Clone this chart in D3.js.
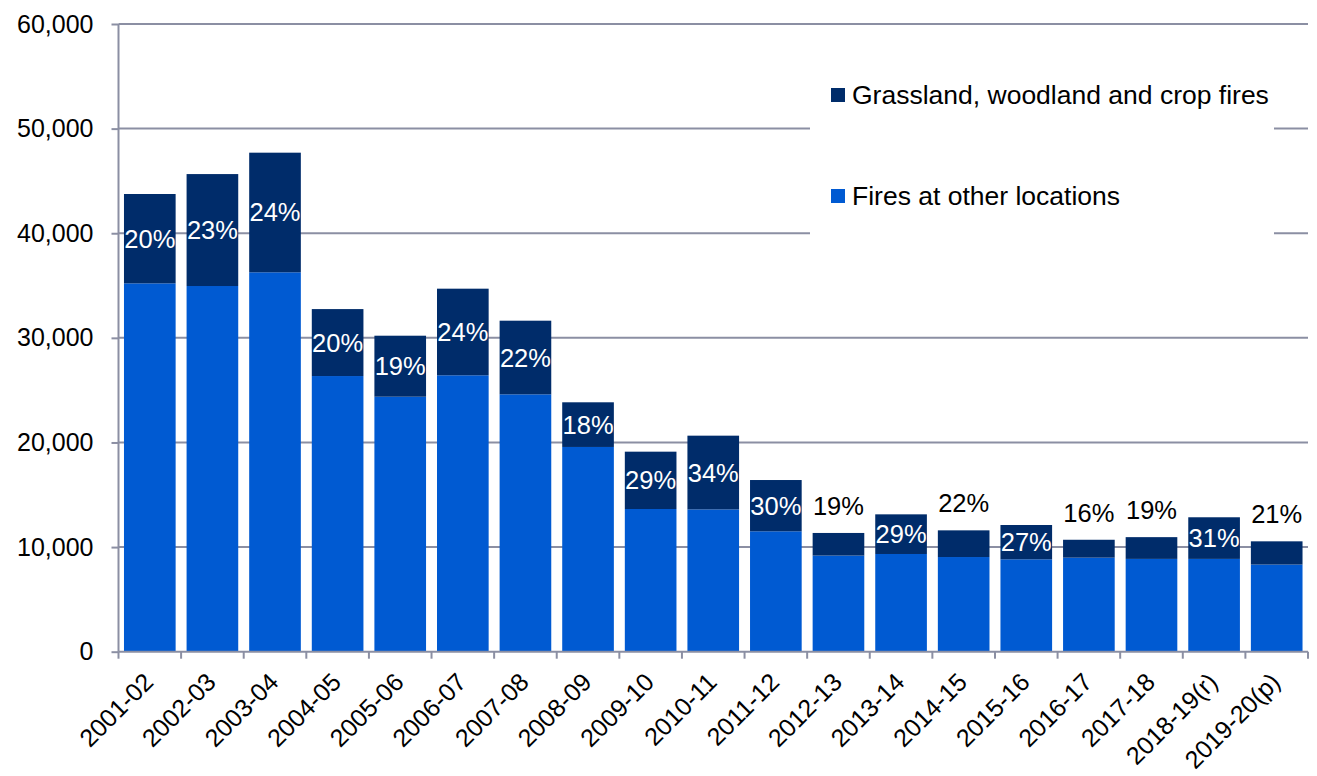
<!DOCTYPE html>
<html>
<head>
<meta charset="utf-8">
<script src="https://cdn.jsdelivr.net/npm/d3@7"></script>
<style>
  html, body { margin: 0; padding: 0; background: #ffffff; }
  svg { display: block; font-family: "Liberation Sans", Arial, sans-serif; }
</style>
</head>
<body>
<svg id="chart" width="1317" height="776"></svg>
<script>
// Financial years
const categories = ["2001-02", "2002-03", "2003-04", "2004-05", "2005-06", "2006-07",
  "2007-08", "2008-09", "2009-10", "2010-11", "2011-12", "2012-13", "2013-14",
  "2014-15", "2015-16", "2016-17", "2017-18", "2018-19(r)", "2019-20(p)"];

// Fires at other locations (lower segment)
const otherFires = [35210, 34955, 36265, 26350, 24375, 26420, 24600, 19570, 13640,
  13600, 11510, 9190, 9340, 9050, 8830, 8990, 8870, 8870, 8330];

// Grassland, woodland and crop fires (upper segment)
const grassFires = [8540, 10700, 11435, 6400, 5830, 8280, 7040, 4270, 5480,
  7050, 4900, 2160, 3790, 2550, 3280, 1710, 2080, 3980, 2220];

const yTicks = [0, 10000, 20000, 30000, 40000, 50000, 60000];

const seriesNames = ["Grassland, woodland and crop fires", "Fires at other locations"];
const colors = { grass: "#002c6a", other: "#005ad2" };
const gridColor = "#8b8fa3";

const svg = d3.select("#chart");

const plotLeft = 118.5, plotRight = 1308, plotTop = 24, plotBottom = 651.7;

const x = d3.scaleBand()
  .domain(categories)
  .range([plotLeft, plotRight])
  .paddingInner(0.175)
  .paddingOuter(0.0875);

const y = d3.scaleLinear().domain([0, 60000]).range([plotBottom, plotTop]);

const data = categories.map((c, i) => ({
  cat: c,
  other: otherFires[i],
  grass: grassFires[i],
  total: otherFires[i] + grassFires[i],
  pct: Math.round(grassFires[i] / (otherFires[i] + grassFires[i]) * 100)
}));

// Horizontal gridlines
svg.append("g")
  .selectAll("line")
  .data(yTicks.filter(t => t > 0))
  .join("line")
  .attr("x1", plotLeft).attr("x2", plotRight)
  .attr("y1", d => y(d)).attr("y2", d => y(d))
  .attr("stroke", gridColor).attr("stroke-width", 2);

// Y axis with outward ticks and labels
const yAxis = svg.append("g")
  .attr("transform", `translate(${plotLeft},0)`)
  .call(d3.axisLeft(y).tickValues(yTicks).tickSize(7).tickPadding(18)
    .tickFormat(d3.format(",")));
yAxis.select(".domain").attr("stroke", gridColor).attr("stroke-width", 2)
  .attr("d", `M0,${y(60000)}V${y(0)}`);
yAxis.selectAll(".tick line").attr("stroke", gridColor).attr("stroke-width", 2);
yAxis.selectAll(".tick text")
  .attr("fill", "#000").style("font-size", "25px")
  .style("font-family", "'Liberation Sans', Arial, sans-serif");

// Legend panel sits over the gridlines
const legend = svg.append("g");
legend.append("rect")
  .attr("x", 810).attr("y", 60).attr("width", 464).attr("height", 185)
  .attr("fill", "#ffffff");
const legendItems = [
  { name: seriesNames[0], color: colors.grass, y: 95 },
  { name: seriesNames[1], color: colors.other, y: 196 }
];
legendItems.forEach(it => {
  legend.append("rect")
    .attr("x", 831).attr("y", it.y - 7).attr("width", 14).attr("height", 14)
    .attr("fill", it.color);
  legend.append("text")
    .attr("x", 852).attr("y", it.y + 9)
    .attr("font-size", 26.5).attr("fill", "#000")
    .text(it.name);
});

// Stacked bars
const bars = svg.append("g");
bars.selectAll("rect.other")
  .data(data).join("rect")
  .attr("class", "other")
  .attr("x", d => x(d.cat)).attr("width", x.bandwidth())
  .attr("y", d => y(d.other)).attr("height", d => y(0) - y(d.other))
  .attr("fill", colors.other);
bars.selectAll("rect.grass")
  .data(data).join("rect")
  .attr("class", "grass")
  .attr("x", d => x(d.cat)).attr("width", x.bandwidth())
  .attr("y", d => y(d.total)).attr("height", d => y(d.other) - y(d.total))
  .attr("fill", colors.grass);

// Percentage labels: inside the upper segment when it is tall enough, otherwise above the bar
svg.append("g")
  .selectAll("text")
  .data(data).join("text")
  .attr("x", d => x(d.cat) + x.bandwidth() / 2)
  .attr("y", d => {
    const h = y(d.other) - y(d.total);
    return h >= 30 ? (y(d.total) + y(d.other)) / 2 + 9 : y(d.total) - 18;
  })
  .attr("text-anchor", "middle")
  .attr("font-size", 25.5)
  .attr("fill", d => (y(d.other) - y(d.total)) >= 30 ? "#ffffff" : "#000000")
  .text(d => d.pct + "%");

// X axis line and category boundary ticks
const step = x.step();
const xAxisG = svg.append("g");
xAxisG.append("line")
  .attr("x1", plotLeft).attr("x2", plotRight)
  .attr("y1", y(0)).attr("y2", y(0))
  .attr("stroke", gridColor).attr("stroke-width", 2);
const boundaries = categories.map(c => x(c) - x.paddingInner() * step / 2)
  .concat([x(categories[categories.length - 1]) + x.bandwidth() + x.paddingInner() * step / 2]);
xAxisG.selectAll("line.tick")
  .data(boundaries).join("line")
  .attr("class", "tick")
  .attr("x1", d => d).attr("x2", d => d)
  .attr("y1", y(0)).attr("y2", y(0) + 7)
  .attr("stroke", gridColor).attr("stroke-width", 2);

// Rotated category labels
xAxisG.selectAll("text.cat")
  .data(categories).join("text")
  .attr("class", "cat")
  .attr("transform", d => `translate(${x(d) + x.bandwidth() / 2 + 5},${y(0) + 32}) rotate(-45)`)
  .attr("text-anchor", "end")
  .attr("font-size", 25)
  .attr("fill", "#000")
  .text(d => d);
</script>
</body>
</html>
